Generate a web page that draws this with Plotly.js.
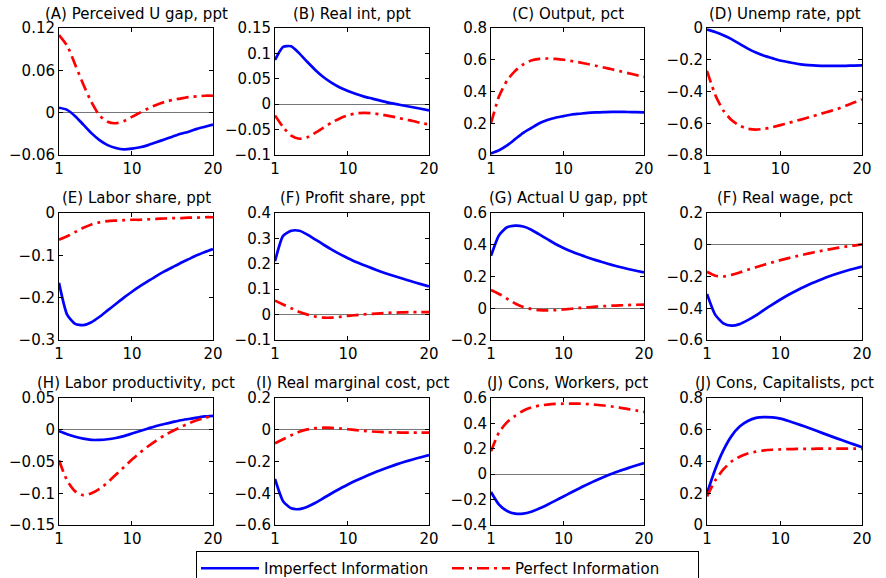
<!DOCTYPE html>
<html><head><meta charset="utf-8">
<script src="https://cdn.plot.ly/plotly-3.0.1.min.js"></script>
<style>html,body{margin:0;padding:0;background:#fff}#chart{width:886px;height:578px}</style>
</head><body><div id="chart"></div>
<script>
const quarters = [1,2,3,4,5,6,7,8,9,10,11,12,13,14,15,16,17,18,19,20];
const xTickVals = [1, 10, 20];
const xTickText = ["1", "10", "20"];
const seriesNames = ["Imperfect Information", "Perfect Information"];

const titles = [
  "(A) Perceived U gap, ppt", "(B) Real int, ppt", "(C) Output, pct", "(D) Unemp rate, ppt",
  "(E) Labor share, ppt", "(F) Profit share, ppt", "(G) Actual U gap, ppt", "(F) Real wage, pct",
  "(H) Labor productivity, pct", "(I) Real marginal cost, pct", "(J) Cons, Workers, pct", "(J) Cons, Capitalists, pct"
];

// Panel A
const imperfect_A = [0.007,0.004,-0.005,-0.017,-0.029,-0.039,-0.046,-0.050,-0.052,-0.051,-0.049,-0.046,-0.042,-0.038,-0.034,-0.030,-0.027,-0.023,-0.020,-0.017];
const perfect_A = [0.110,0.095,0.068,0.040,0.015,-0.004,-0.013,-0.015,-0.012,-0.006,0.000,0.006,0.011,0.015,0.018,0.020,0.022,0.023,0.024,0.024];
const ticks_A = [-0.06, 0, 0.06, 0.12];
const ticktext_A = ["\u22120.06", "0", "0.06", "0.12"];
// Panel B
const imperfect_B = [0.087,0.113,0.114,0.100,0.083,0.067,0.053,0.042,0.033,0.026,0.020,0.015,0.011,0.007,0.003,0.000,-0.003,-0.006,-0.009,-0.012];
const perfect_B = [-0.022,-0.045,-0.062,-0.068,-0.065,-0.056,-0.046,-0.036,-0.028,-0.022,-0.018,-0.017,-0.018,-0.020,-0.023,-0.026,-0.030,-0.033,-0.037,-0.040];
const ticks_B = [-0.1, -0.05, 0, 0.05, 0.1, 0.15];
const ticktext_B = ["\u22120.1", "\u22120.05", "0", "0.05", "0.1", "0.15"];
// Panel C
const imperfect_C = [0.01,0.03,0.06,0.10,0.14,0.17,0.20,0.22,0.235,0.245,0.255,0.26,0.265,0.268,0.27,0.272,0.272,0.271,0.27,0.268];
const perfect_C = [0.20,0.37,0.47,0.53,0.57,0.595,0.605,0.608,0.605,0.60,0.592,0.583,0.573,0.562,0.551,0.54,0.528,0.516,0.504,0.492];
const ticks_C = [0, 0.2, 0.4, 0.6, 0.8];
const ticktext_C = ["0", "0.2", "0.4", "0.6", "0.8"];
// Panel D
const imperfect_D = [-0.01,-0.025,-0.045,-0.07,-0.10,-0.13,-0.155,-0.175,-0.19,-0.205,-0.215,-0.225,-0.232,-0.236,-0.238,-0.239,-0.239,-0.238,-0.237,-0.235];
const perfect_D = [-0.27,-0.42,-0.52,-0.58,-0.615,-0.635,-0.64,-0.635,-0.625,-0.612,-0.598,-0.584,-0.57,-0.555,-0.54,-0.525,-0.51,-0.49,-0.47,-0.45];
const ticks_D = [-0.8, -0.6, -0.4, -0.2, 0];
const ticktext_D = ["\u22120.8", "\u22120.6", "\u22120.4", "\u22120.2", "0"];
// Panel E
const imperfect_E = [-0.165,-0.24,-0.262,-0.265,-0.258,-0.245,-0.23,-0.215,-0.2,-0.186,-0.173,-0.161,-0.149,-0.138,-0.128,-0.118,-0.109,-0.1,-0.092,-0.085];
const perfect_E = [-0.063,-0.055,-0.045,-0.035,-0.027,-0.022,-0.019,-0.018,-0.017,-0.016,-0.016,-0.015,-0.014,-0.013,-0.012,-0.012,-0.011,-0.011,-0.01,-0.01];
const ticks_E = [-0.3, -0.2, -0.1, 0];
const ticktext_E = ["\u22120.3", "\u22120.2", "\u22120.1", "0"];
// Panel F (profit share)
const imperfect_F = [0.21,0.31,0.33,0.33,0.315,0.295,0.275,0.256,0.238,0.222,0.207,0.194,0.182,0.170,0.159,0.149,0.139,0.129,0.12,0.111];
const perfect_F = [0.055,0.04,0.025,0.01,0.0,-0.008,-0.012,-0.012,-0.009,-0.005,-0.002,0.001,0.003,0.005,0.007,0.008,0.009,0.01,0.01,0.01];
const ticks_F = [-0.1, 0, 0.1, 0.2, 0.3, 0.4];
const ticktext_F = ["\u22120.1", "0", "0.1", "0.2", "0.3", "0.4"];
// Panel G
const imperfect_G = [0.33,0.46,0.51,0.52,0.515,0.495,0.465,0.435,0.405,0.38,0.358,0.338,0.32,0.303,0.288,0.273,0.26,0.247,0.236,0.226];
const perfect_G = [0.115,0.09,0.06,0.03,0.008,-0.005,-0.012,-0.014,-0.012,-0.008,-0.003,0.002,0.006,0.01,0.013,0.016,0.018,0.02,0.022,0.023];
const ticks_G = [-0.2, 0, 0.2, 0.4, 0.6];
const ticktext_G = ["\u22120.2", "0", "0.2", "0.4", "0.6"];
// Panel real wage
const imperfect_W = [-0.31,-0.44,-0.495,-0.51,-0.5,-0.475,-0.445,-0.41,-0.377,-0.345,-0.315,-0.288,-0.263,-0.24,-0.219,-0.199,-0.181,-0.165,-0.151,-0.138];
const perfect_W = [-0.17,-0.195,-0.2,-0.19,-0.175,-0.158,-0.142,-0.126,-0.111,-0.097,-0.084,-0.072,-0.06,-0.049,-0.039,-0.029,-0.02,-0.012,-0.005,0.002];
const ticks_W = [-0.6, -0.4, -0.2, 0, 0.2];
const ticktext_W = ["\u22120.6", "\u22120.4", "\u22120.2", "0", "0.2"];
// Panel H
const imperfect_H = [-0.002,-0.007,-0.011,-0.014,-0.016,-0.016,-0.015,-0.013,-0.01,-0.006,-0.002,0.002,0.006,0.009,0.012,0.015,0.017,0.019,0.021,0.022];
const perfect_H = [-0.048,-0.08,-0.097,-0.103,-0.1,-0.093,-0.083,-0.071,-0.059,-0.047,-0.036,-0.026,-0.017,-0.009,-0.002,0.004,0.01,0.015,0.019,0.022];
const ticks_H = [-0.15, -0.1, -0.05, 0, 0.05];
const ticktext_H = ["\u22120.15", "\u22120.1", "\u22120.05", "0", "0.05"];
// Panel I
const imperfect_I = [-0.31,-0.45,-0.495,-0.5,-0.485,-0.46,-0.43,-0.4,-0.372,-0.345,-0.32,-0.297,-0.275,-0.255,-0.236,-0.218,-0.202,-0.187,-0.173,-0.16];
const perfect_I = [-0.085,-0.06,-0.035,-0.013,0.002,0.01,0.013,0.012,0.008,0.003,-0.002,-0.007,-0.011,-0.014,-0.016,-0.017,-0.018,-0.018,-0.018,-0.018];
const ticks_I = [-0.6, -0.4, -0.2, 0, 0.2];
const ticktext_I = ["\u22120.6", "\u22120.4", "\u22120.2", "0", "0.2"];
// Panel J workers
const imperfect_JW = [-0.14,-0.24,-0.29,-0.31,-0.31,-0.295,-0.27,-0.24,-0.208,-0.175,-0.142,-0.11,-0.079,-0.05,-0.022,0.003,0.027,0.048,0.068,0.088];
const perfect_JW = [0.18,0.33,0.41,0.46,0.5,0.525,0.54,0.548,0.553,0.555,0.556,0.555,0.552,0.547,0.541,0.533,0.524,0.513,0.502,0.49];
const ticks_JW = [-0.4, -0.2, 0, 0.2, 0.4, 0.6];
const ticktext_JW = ["\u22120.4", "\u22120.2", "0", "0.2", "0.4", "0.6"];
// Panel J capitalists
const imperfect_JC = [0.2,0.35,0.47,0.56,0.62,0.655,0.675,0.68,0.678,0.67,0.655,0.638,0.62,0.601,0.582,0.563,0.544,0.526,0.508,0.49];
const perfect_JC = [0.18,0.28,0.35,0.4,0.43,0.45,0.462,0.47,0.474,0.476,0.478,0.479,0.48,0.48,0.481,0.481,0.481,0.481,0.481,0.48];
const ticks_JC = [0, 0.2, 0.4, 0.6, 0.8];
const ticktext_JC = ["0", "0.2", "0.4", "0.6", "0.8"];

const panels = [
  [imperfect_A, perfect_A, ticks_A, ticktext_A],
  [imperfect_B, perfect_B, ticks_B, ticktext_B],
  [imperfect_C, perfect_C, ticks_C, ticktext_C],
  [imperfect_D, perfect_D, ticks_D, ticktext_D],
  [imperfect_E, perfect_E, ticks_E, ticktext_E],
  [imperfect_F, perfect_F, ticks_F, ticktext_F],
  [imperfect_G, perfect_G, ticks_G, ticktext_G],
  [imperfect_W, perfect_W, ticks_W, ticktext_W],
  [imperfect_H, perfect_H, ticks_H, ticktext_H],
  [imperfect_I, perfect_I, ticks_I, ticktext_I],
  [imperfect_JW, perfect_JW, ticks_JW, ticktext_JW],
  [imperfect_JC, perfect_JC, ticks_JC, ticktext_JC]
];

const W = 886, H = 578;
const colPx = [[59,213],[275,429],[491,644],[707,862]];
const rowPx = [[28,155],[213,340],[398,525]];
const titleY = [14, 198, 383];
const FONT = "DejaVu Sans, Liberation Sans, Arial, sans-serif";

const traces = [];
const layout = {
  width: W, height: H,
  margin: {l:0, r:0, t:0, b:0, autoexpand:false},
  paper_bgcolor: "#fff", plot_bgcolor: "#fff",
  font: {family: FONT, size: 15, color: "#000"},
  showlegend: true,
  legend: {
    orientation: "h", x: 196/W, y: 1 - 551/H, xanchor: "left", yanchor: "top",
    bordercolor: "#000", borderwidth: 1, bgcolor: "#fff",
    font: {family: FONT, size: 15, color: "#000"},
    entrywidth: 178, entrywidthmode: "pixels", itemwidth: 58
  },
  annotations: []
};

panels.forEach((p, i) => {
  const r = Math.floor(i / 4), c = i % 4;
  const n = i + 1;
  const xa = "x" + (n === 1 ? "" : n), ya = "y" + (n === 1 ? "" : n);
  const xk = "xaxis" + (n === 1 ? "" : n), yk = "yaxis" + (n === 1 ? "" : n);
  const ticks = p[2];
  const yr = [ticks[0], ticks[ticks.length - 1]];
  const zeroInside = yr[0] < 0 && yr[1] > 0;
  layout[xk] = {
    domain: [colPx[c][0]/W, colPx[c][1]/W], anchor: ya,
    range: [1, 20], tickmode: "array", tickvals: xTickVals, ticktext: xTickText,
    ticks: "inside", ticklen: 4, tickcolor: "#000", showline: true, linecolor: "#000", linewidth: 1,
    mirror: "ticks", showgrid: false, zeroline: false, tickfont: {size: 15}, fixedrange: true
  };
  layout[yk] = {
    domain: [1 - rowPx[r][1]/H, 1 - rowPx[r][0]/H], anchor: xa,
    range: yr, tickmode: "array", tickvals: ticks, ticktext: p[3],
    ticks: "inside", ticklen: 4, tickcolor: "#000", showline: true, linecolor: "#000", linewidth: 1,
    mirror: "ticks", showgrid: false, zeroline: zeroInside, zerolinecolor: "#777", zerolinewidth: 1.3,
    tickfont: {size: 15}, fixedrange: true
  };
  traces.push({
    x: quarters, y: p[0], xaxis: xa, yaxis: ya, type: "scatter", mode: "lines",
    name: seriesNames[0], legendgroup: "imp", showlegend: i === 0,
    line: {color: "#0000ff", width: 2.7, shape: "spline", smoothing: 0.6}, hoverinfo: "skip"
  });
  traces.push({
    x: quarters, y: p[1], xaxis: xa, yaxis: ya, type: "scatter", mode: "lines",
    name: seriesNames[1], legendgroup: "per", showlegend: i === 0,
    line: {color: "#ff0000", width: 2.7, dash: "12px,5px,3px,5px", shape: "spline", smoothing: 0.6}, hoverinfo: "skip"
  });
  layout.annotations.push({
    text: titles[i], xref: "paper", yref: "paper",
    x: (colPx[c][0] + colPx[c][1]) / 2 / W, y: 1 - titleY[r] / H,
    xanchor: "center", yanchor: "middle", showarrow: false,
    font: {family: FONT, size: 15, color: "#000"}
  });
});

Plotly.newPlot("chart", traces, layout, {staticPlot: true, displayModeBar: false});
</script>
</body></html>
